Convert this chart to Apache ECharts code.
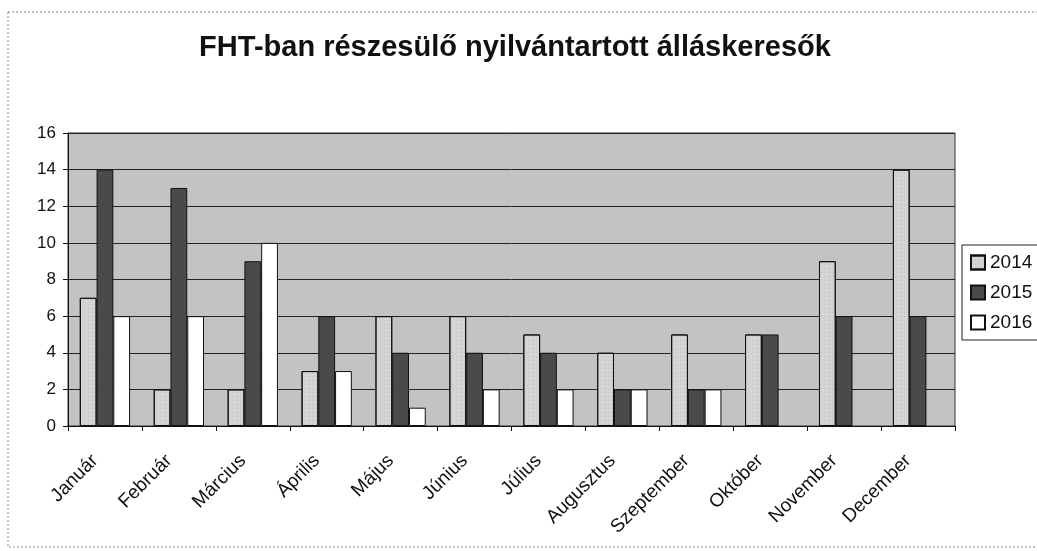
<!DOCTYPE html>
<html>
<head>
<meta charset="utf-8">
<script src="https://cdn.jsdelivr.net/npm/echarts@6/dist/echarts.min.js"></script>
<style>
    html, body {margin: 0; padding: 0; background: #fff;}
    #et1 {width: 1037px; height: 551px;}
</style>
</head>
<body>
<div id="et1"></div>
<script>
var months = ['Január', 'Február', 'Március', 'Április', 'Május', 'Június', 'Július',
    'Augusztus', 'Szeptember', 'Október', 'November', 'December'];
var y2014 = [7, 2, 2, 3, 6, 6, 5, 4, 5, 5, 9, 14];
var y2015 = [14, 13, 9, 6, 4, 4, 4, 2, 2, 5, 6, 6];
var y2016 = [6, 6, 10, 3, 1, 2, 2, 2, 2, null, null, null];

~function () {
    var myChart = echarts.init(et1);
    var font = 'Liberation Sans, Arial, sans-serif';
    var option = {
        backgroundColor: '#fff',
        title: {
            text: 'FHT-ban részesülő nyilvántartott álláskeresők',
            left: 510,
            textAlign: 'center',
            top: 28,
            textStyle: {
                fontFamily: font,
                fontSize: 29,
                fontWeight: 'bold',
                color: '#111'
            }
        },
        legend: {
            data: ['2014', '2015', '2016'],
            orient: 'vertical',
            left: 962,
            top: 245,
            icon: 'rect',
            itemWidth: 14,
            itemHeight: 14,
            itemGap: 11,
            padding: [8, 8, 8, 8],
            borderColor: '#222',
            borderWidth: 1,
            backgroundColor: '#fff',
            textStyle: {fontFamily: font, fontSize: 19, color: '#111'}
        },
        grid: {
            left: 68,
            right: 82,
            top: 133,
            bottom: 125,
            show: true,
            backgroundColor: '#c3c3c3',
            borderColor: '#333',
            borderWidth: 1
        },
        xAxis: [
            {
                type: 'category',
                data: months,
                axisLine: {lineStyle: {color: '#111'}},
                axisTick: {show: true, lineStyle: {color: '#111'}},
                axisLabel: {
                    rotate: 45,
                    fontFamily: font,
                    fontSize: 19,
                    color: '#111',
                    margin: 22,
                    padding: [0, 14, 0, 0]
                }
            }
        ],
        yAxis: [
            {
                type: 'value',
                min: 0,
                max: 16,
                interval: 2,
                axisLine: {show: true, lineStyle: {color: '#111'}},
                axisTick: {show: true, lineStyle: {color: '#111'}},
                splitLine: {lineStyle: {color: '#222', width: 1}},
                axisLabel: {fontFamily: font, fontSize: 17, color: '#111', margin: 12}
            }
        ],
        series: [
            {
                name: '2014',
                type: 'bar',
                data: y2014,
                barGap: '0%',
                barCategoryGap: '32%',
                itemStyle: {
                    color: '#d4d4d4',
                    borderColor: '#111',
                    borderWidth: 1,
                    decal: {symbol: 'rect', symbolSize: 0.6, dashArrayX: [1, 3], dashArrayY: [1, 3], color: 'rgba(60,60,60,0.5)'}
                }
            },
            {
                name: '2015',
                type: 'bar',
                data: y2015,
                itemStyle: {color: '#4a4a4a', borderColor: '#111', borderWidth: 1}
            },
            {
                name: '2016',
                type: 'bar',
                data: y2016,
                itemStyle: {color: '#ffffff', borderColor: '#111', borderWidth: 1}
            }
        ],
        graphic: [
            {
                type: 'rect',
                shape: {x: 8, y: 12, width: 1040, height: 535},
                style: {fill: 'none', stroke: '#888', lineWidth: 1, lineDash: [2, 2]},
                silent: true
            }
        ]
    };
    myChart.setOption(option);
}();
</script>
</body>
</html>
